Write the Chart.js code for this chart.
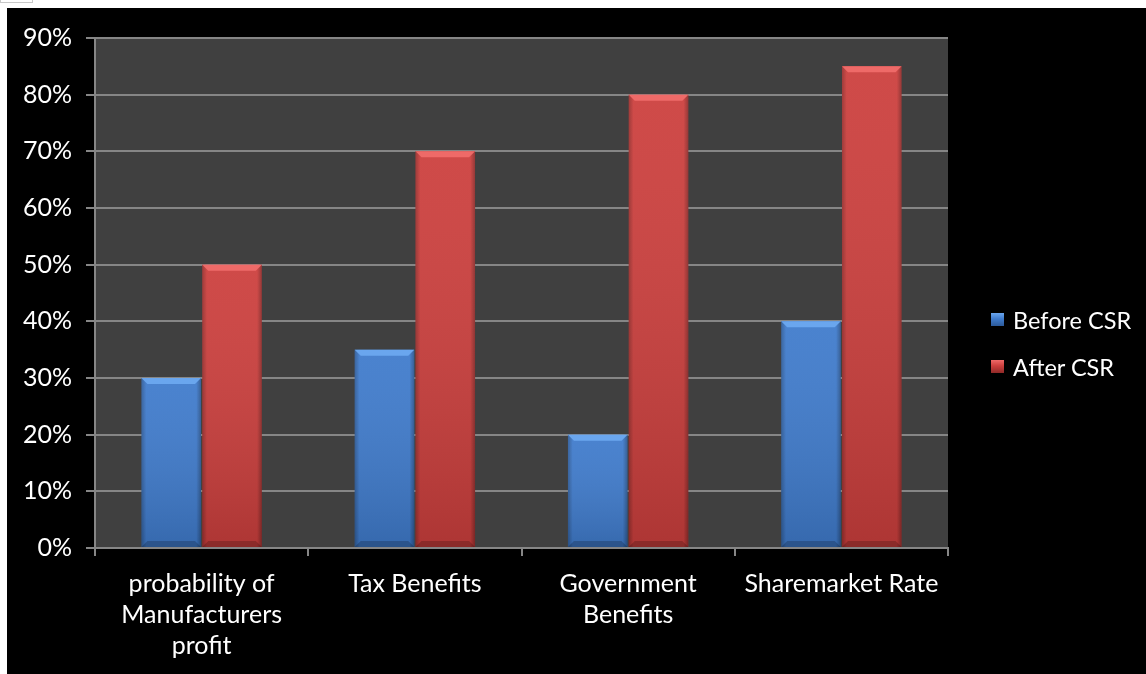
<!DOCTYPE html>
<html>
<head>
<meta charset="utf-8">
<script src="https://cdn.jsdelivr.net/npm/chart.js@4"></script>
<style>
    body { margin: 0; background: #fff; width: 1146px; height: 674px; overflow: hidden; position: relative; }
    #frame { position: absolute; left: 7px; top: 8px; width: 1139px; height: 666px; background: #000; }
    #topBox { position: absolute; left: 0; top: 0; width: 31px; height: 2px; border: 1px solid #c8c8c8; border-top: none; }
    #legend { position: absolute; left: 991px; top: 296px; font-family: Lato, sans-serif; font-size: 23.5px; color: #fff; }
    .item { display: flex; align-items: center; height: 47px; }
    .swatch { width: 13px; height: 13px; margin-right: 9px; }
</style>
</head>
<body>
<div id="topBox"></div>
<div id="frame">
    <canvas id="csrChart" width="1139" height="666"></canvas>
</div>
<div id="legend"></div>
<script>
const categories = [
    ['probability of', 'Manufacturers', 'profit'],
    'Tax Benefits',
    ['Government', 'Benefits'],
    'Sharemarket Rate'
];
const beforeCSR = [30, 35, 20, 40];
const afterCSR = [50, 70, 80, 85];
const yTicks = [0, 10, 20, 30, 40, 50, 60, 70, 80, 90];

const seriesStyle = [
    { label: 'Before CSR', base: '#3f7bcc', light: '#6aa6ee', dark: '#2c5a9a' },
    { label: 'After CSR', base: '#cc3f3d', light: '#ee6a68', dark: '#8f2a28' }
];

// plot area fill
const plotBg = {
    id: 'plotBg',
    beforeDraw(chart) {
        const { ctx, chartArea: a } = chart;
        ctx.save();
        ctx.fillStyle = '#404040';
        ctx.fillRect(a.left, a.top, a.right - a.left, a.bottom - a.top);
        ctx.restore();
    }
};

// bevel look on each bar, drawn over the library's own bar elements
const bevel = {
    id: 'bevel',
    afterDatasetsDraw(chart) {
        const ctx = chart.ctx;
        chart.data.datasets.forEach((ds, di) => {
            const st = seriesStyle[di];
            chart.getDatasetMeta(di).data.forEach(bar => {
                const l = bar.x - bar.width / 2, r = bar.x + bar.width / 2;
                const t = bar.y, b = bar.base;
                const e = 6;
                ctx.save();
                let g = ctx.createLinearGradient(l, 0, r, 0);
                g.addColorStop(0, 'rgba(0,0,0,0.25)');
                g.addColorStop(0.08, 'rgba(0,0,0,0)');
                g.addColorStop(0.92, 'rgba(0,0,0,0)');
                g.addColorStop(1, 'rgba(0,0,0,0.3)');
                ctx.fillStyle = g;
                ctx.fillRect(l, t, r - l, b - t);
                let gv = ctx.createLinearGradient(0, t, 0, b);
                gv.addColorStop(0, 'rgba(255,255,255,0.06)');
                gv.addColorStop(1, 'rgba(0,0,0,0.15)');
                ctx.fillStyle = gv;
                ctx.fillRect(l, t, r - l, b - t);
                // top bevel
                ctx.fillStyle = st.light;
                ctx.beginPath();
                ctx.moveTo(l, t);
                ctx.lineTo(r, t);
                ctx.lineTo(r - e, t + e);
                ctx.lineTo(l + e, t + e);
                ctx.closePath();
                ctx.fill();
                // bottom shade
                ctx.fillStyle = 'rgba(0,0,0,0.2)';
                ctx.beginPath();
                ctx.moveTo(l, b);
                ctx.lineTo(r, b);
                ctx.lineTo(r - e, b - e);
                ctx.lineTo(l + e, b - e);
                ctx.closePath();
                ctx.fill();
                ctx.restore();
            });
        });
    }
};

const font = { family: 'Lato, sans-serif', size: 25, lineHeight: 1.25 };

new Chart(document.getElementById('csrChart'), {
    type: 'bar',
    data: {
        labels: categories,
        datasets: [
            { label: seriesStyle[0].label, data: beforeCSR, backgroundColor: seriesStyle[0].base },
            { label: seriesStyle[1].label, data: afterCSR, backgroundColor: seriesStyle[1].base }
        ]
    },
    options: {
        responsive: false,
        animation: false,
        layout: { padding: { top: 30, right: 198, left: 0, bottom: 0 } },
        datasets: { bar: { categoryPercentage: 0.57, barPercentage: 0.98 } },
        plugins: {
            legend: { display: false },
            tooltip: { enabled: false }
        },
        scales: {
            x: {
                offset: true,
                grid: { display: true, drawOnChartArea: false, color: '#868686', lineWidth: 2, tickLength: 8 },
                border: { color: '#868686', width: 2 },
                ticks: { color: '#fff', font: font, padding: 12, maxRotation: 0 },
                afterFit(scale) { scale.height = 126; }
            },
            y: {
                min: 0,
                max: 90,
                afterBuildTicks(scale) { scale.ticks = yTicks.map(v => ({ value: v })); },
                grid: { color: '#868686', lineWidth: 2, tickLength: 9 },
                border: { color: '#868686', width: 2 },
                ticks: { color: '#fff', font: font, padding: 14, callback: v => v + '%' },
                afterFit(scale) { scale.width = 88; }
            }
        }
    },
    plugins: [plotBg, bevel]
});

const legendBox = document.getElementById('legend');
seriesStyle.forEach(st => {
    const item = document.createElement('div');
    item.className = 'item';
    const sw = document.createElement('span');
    sw.className = 'swatch';
    sw.style.background = 'linear-gradient(to bottom, ' + st.light + ' 0%, ' + st.base + ' 45%, ' + st.dark + ' 100%)';
    const txt = document.createElement('span');
    txt.textContent = st.label;
    item.appendChild(sw);
    item.appendChild(txt);
    legendBox.appendChild(item);
});
</script>
</body>
</html>
